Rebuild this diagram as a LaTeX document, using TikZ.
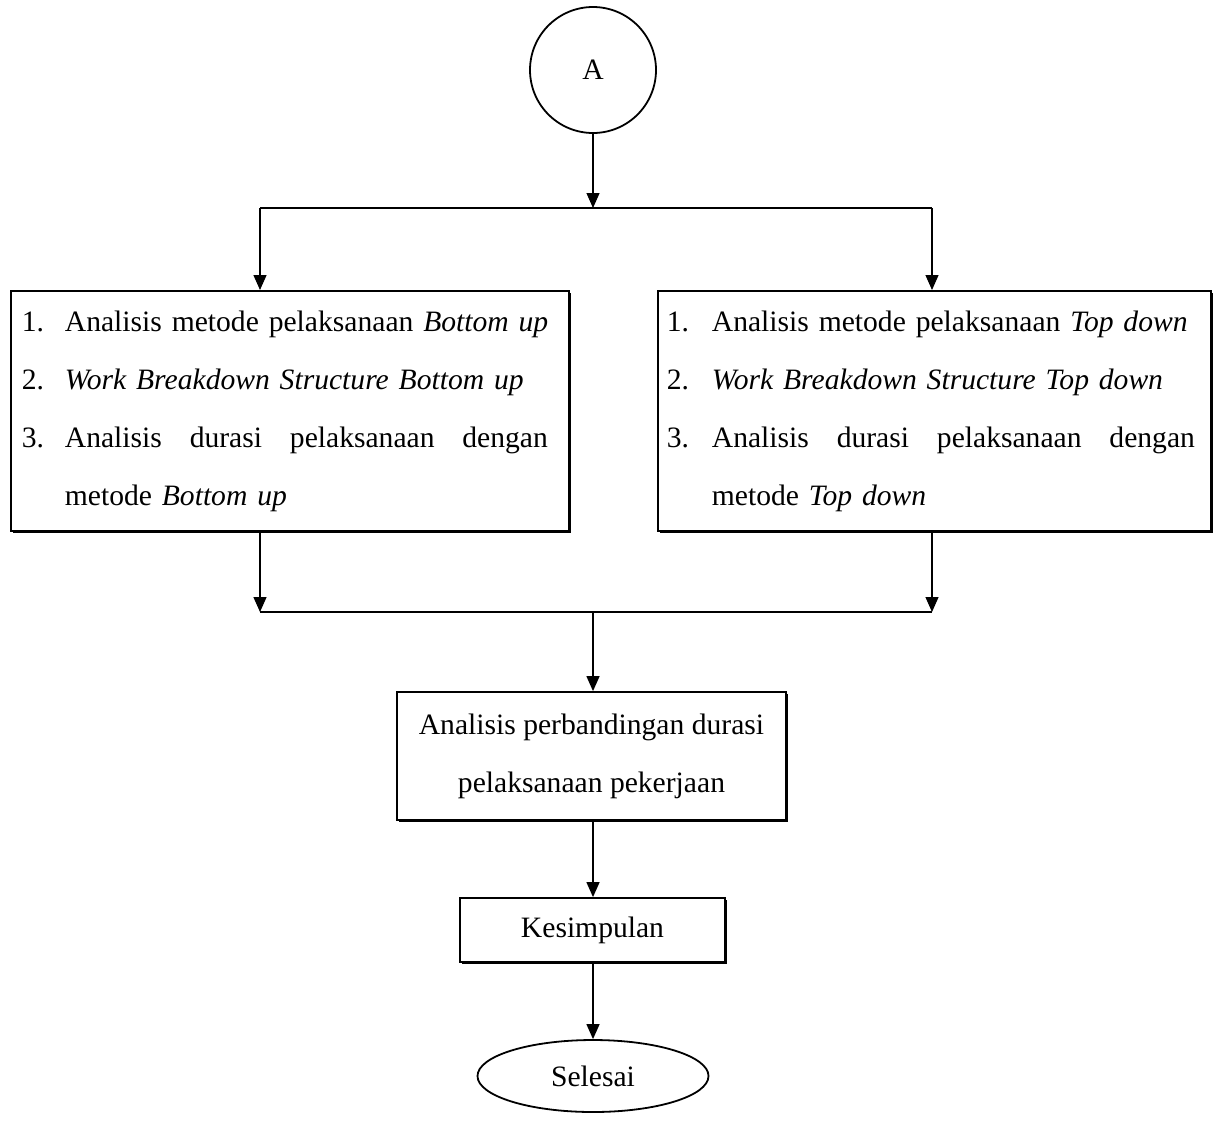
\documentclass[tikz,border=0pt]{standalone}
\usepackage{fontspec}
\setmainfont{Liberation Serif}
\usetikzlibrary{arrows.meta,shapes.geometric,shadows}
\newcommand{\jline}[1]{\hbox to 483pt{#1}}
\begin{document}
\begin{tikzpicture}[x=1pt,y=-1pt,
  conn/.style={line width=1.3pt},
  arr/.style={line width=1.3pt,-{Triangle[length=15pt,width=13pt]}},
  procbox/.style={draw,line width=1.8pt,fill=white,inner ysep=0pt,
    drop shadow={shadow xshift=1.6pt,shadow yshift=-1.6pt,fill=black,opacity=1}},
  txt/.style={font=\fontsize{29.6}{58}\selectfont}
]
\useasboundingbox (0,0) rectangle (1217,1120);
\fill[white] (0,0) rectangle (1217,1120);

\node[draw,circle,line width=1.8pt,minimum size=126pt,inner sep=0pt,txt] (A) at (593,70) {A};

\coordinate (jt) at (593,208);
\coordinate (jtl) at (260,208);
\coordinate (jtr) at (932,208);

\node[procbox,minimum width=558pt,minimum height=240pt,anchor=north west,
  inner xsep=11pt,txt,text width=536pt,align=left] (L) at (10,290)
{\makebox[43pt][l]{1.}Analisis metode pelaksanaan \textit{Bottom up}\\
 \makebox[43pt][l]{2.}\textit{Work Breakdown Structure Bottom up}\\
 \makebox[43pt][l]{3.}\jline{Analisis\hfill durasi\hfill pelaksanaan\hfill dengan}\\
 \hspace*{43pt}metode \textit{Bottom up}};

\node[procbox,minimum width=553pt,minimum height=240pt,anchor=north west,
  inner xsep=9pt,txt,text width=535pt,align=left] (R) at (657,290)
{\makebox[45pt][l]{1.}Analisis metode pelaksanaan \textit{Top down}\\
 \makebox[45pt][l]{2.}\textit{Work Breakdown Structure Top down}\\
 \makebox[45pt][l]{3.}\jline{Analisis\hfill durasi\hfill pelaksanaan\hfill dengan}\\
 \hspace*{45pt}metode \textit{Top down}};

\coordinate (jb) at (593,612);
\coordinate (jbl) at (260,612);
\coordinate (jbr) at (932,612);

\node[procbox,minimum width=389pt,minimum height=128pt,txt,align=center] (M) at (591.5,756)
{Analisis perbandingan durasi\\pelaksanaan pekerjaan};

\node[procbox,minimum width=265pt,minimum height=64pt,txt] (K) at (592.5,930) {Kesimpulan};

\node[draw,ellipse,line width=1.8pt,minimum width=231pt,minimum height=72pt,inner sep=0pt,txt] (S) at (593,1076) {Selesai};

\draw[arr] (A) -- (jt);
\draw[conn] (jtl) -- (jtr);
\draw[arr] (jtl) -- (jtl |- L.north);
\draw[arr] (jtr) -- (jtr |- R.north);
\draw[arr] (jbl |- L.south) -- (jbl);
\draw[arr] (jbr |- R.south) -- (jbr);
\draw[conn] (jbl) -- (jbr);
\draw[arr] (jb) -- (jb |- M.north);
\draw[arr] (M.south -| jb) -- (K.north -| jb);
\draw[arr] (K.south -| jb) -- (S.north);
\end{tikzpicture}
\end{document}
